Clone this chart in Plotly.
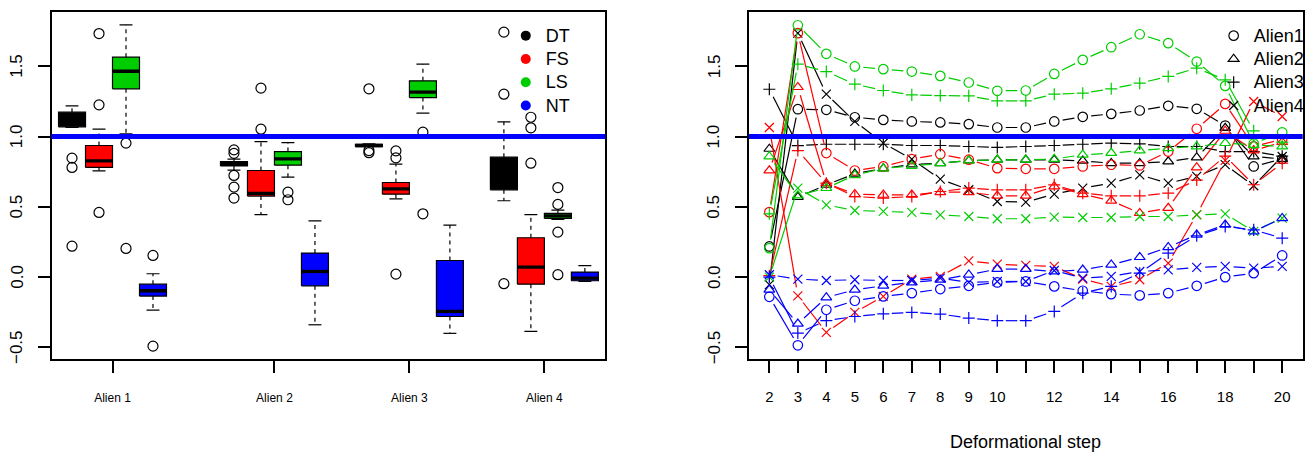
import math
import plotly.graph_objects as go

# ---------------- Left panel: box statistics ----------------
groups = ["DT", "FS", "LS", "NT"]
aliens = ["Alien 1", "Alien 2", "Alien 3", "Alien 4"]

# order: Alien1 (DT, FS, LS, NT), Alien2 (...), Alien3 (...), Alien4 (...)
whisk_lo = [1.065, 0.756, 1.019, -0.235,
            0.761, 0.445, 0.711, -0.339,
            0.930, 0.557, 1.166, -0.400,
            0.543, -0.386, 0.410, -0.030]
q1 = [1.069, 0.780, 1.339, -0.135,
      0.791, 0.576, 0.796, -0.062,
      0.927, 0.590, 1.277, -0.280,
      0.621, -0.050, 0.417, -0.026]
median = [1.110, 0.827, 1.464, -0.097,
          0.806, 0.595, 0.841, 0.040,
          0.936, 0.628, 1.315, -0.244,
          0.730, 0.071, 0.436, -0.007]
q3 = [1.173, 0.936, 1.564, -0.050,
      0.822, 0.758, 0.893, 0.171,
      0.945, 0.673, 1.396, 0.118,
      0.853, 0.280, 0.453, 0.036]
whisk_hi = [1.218, 1.052, 1.794, 0.024,
            0.839, 0.964, 0.957, 0.400,
            0.947, 0.803, 1.514, 0.370,
            1.104, 0.445, 0.476, 0.081]
outliers = [[0.846, 0.780, 0.220], [1.732, 1.225, 0.460], [0.953, 0.204], [0.154, -0.491],
            [0.905, 0.880, 0.723, 0.640, 0.562], [1.344, 1.052], [0.604, 0.550], [],
            [1.339, 0.900, 0.885], [0.898, 0.848, 0.021], [1.031, 0.450], [],
            [1.742, 1.301, -0.047], [1.137, 1.062, 0.810], [0.637, 0.517, 0.320, 0.017], []]

# box placement along the axis (like R's `at=`)
box_at = [1, 2, 3, 4, 7, 8, 9, 10, 12, 13, 14, 15, 17, 18, 19, 20]

ref_value = 1.0
y_ticks = [-0.5, 0.0, 0.5, 1.0, 1.5]

# ---------------- Right panel: series per deformational step ----------------
steps = list(range(2, 21))
step_labels = [str(s) if (s <= 10 or s % 2 == 0) else "" for s in steps]

DT_alien1 = [0.218, 1.194, 1.190, 1.137, 1.118, 1.107, 1.100, 1.088, 1.064, 1.064, 1.107, 1.140, 1.161, 1.185, 1.218, 1.197, 1.078, 0.787, 0.840]
DT_alien2 = [0.912, 0.569, 0.656, 0.735, 0.773, 0.801, 0.810, 0.829, 0.834, 0.834, 0.834, 0.827, 0.810, 0.810, 0.822, 0.851, 1.060, 0.858, 0.840]
DT_alien3 = [1.336, 0.935, 0.945, 0.945, 0.945, 0.936, 0.936, 0.929, 0.922, 0.929, 0.936, 0.945, 0.953, 0.948, 0.929, 0.929, 0.893, 0.893, 0.860]
DT_alien4 = [-0.054, 1.735, 1.301, 1.107, 0.953, 0.839, 0.697, 0.621, 0.538, 0.533, 0.590, 0.633, 0.668, 0.727, 0.668, 0.716, 0.800, 0.650, 0.858]
FS_alien1 = [0.462, 1.735, 0.882, 0.758, 0.787, 0.839, 0.874, 0.835, 0.775, 0.770, 0.770, 0.787, 0.799, 0.794, 0.893, 1.055, 1.232, 0.930, 0.980]
FS_alien2 = [0.758, 1.351, 0.668, 0.590, 0.585, 0.585, 0.604, 0.604, 0.578, 0.578, 0.645, 0.590, 0.543, 0.455, 0.491, 0.780, 1.040, 0.900, 0.960]
FS_alien3 = [0.010, 0.900, 0.668, 0.573, 0.562, 0.573, 0.609, 0.633, 0.621, 0.621, 0.656, 0.597, 0.578, 0.578, 0.597, 0.690, 0.860, 0.657, 0.810]
FS_alien4 = [1.064, -0.133, -0.393, -0.251, -0.137, -0.014, 0.005, 0.116, 0.092, 0.083, 0.076, -0.014, -0.066, -0.019, 0.100, 0.444, 0.830, 1.249, 1.142]
LS_alien1 = [0.206, 1.791, 1.588, 1.498, 1.479, 1.462, 1.431, 1.384, 1.325, 1.327, 1.445, 1.545, 1.635, 1.727, 1.664, 1.533, 1.360, 0.950, 1.030]
LS_alien2 = [0.858, 0.580, 0.633, 0.725, 0.773, 0.790, 0.810, 0.829, 0.834, 0.834, 0.840, 0.870, 0.882, 0.900, 0.917, 0.929, 0.953, 0.940, 0.929]
LS_alien3 = [0.450, 1.514, 1.462, 1.372, 1.327, 1.296, 1.291, 1.289, 1.254, 1.254, 1.301, 1.308, 1.339, 1.379, 1.427, 1.486, 1.403, 1.040, 0.960]
LS_alien4 = [0.000, 0.633, 0.514, 0.474, 0.467, 0.460, 0.443, 0.431, 0.415, 0.415, 0.427, 0.424, 0.424, 0.431, 0.431, 0.443, 0.450, 0.325, 0.420]
NT_alien1 = [-0.140, -0.485, -0.232, -0.168, -0.137, -0.114, -0.085, -0.062, -0.038, -0.031, -0.066, -0.097, -0.121, -0.130, -0.114, -0.062, 0.000, 0.028, 0.154]
NT_alien2 = [-0.090, -0.332, -0.145, -0.090, -0.062, -0.038, -0.019, 0.017, 0.057, 0.057, 0.040, 0.052, 0.088, 0.142, 0.213, 0.301, 0.372, 0.325, 0.419]
NT_alien3 = [0.000, -0.398, -0.310, -0.280, -0.261, -0.251, -0.263, -0.291, -0.310, -0.310, -0.244, -0.114, -0.066, 0.028, 0.171, 0.294, 0.360, 0.336, 0.277]
NT_alien4 = [0.017, -0.014, -0.024, -0.019, -0.024, -0.024, -0.007, -0.038, -0.031, -0.031, 0.047, -0.007, 0.005, 0.040, 0.052, 0.069, 0.076, 0.064, 0.076]

series_right = {
    "DT": [DT_alien1, DT_alien2, DT_alien3, DT_alien4],
    "FS": [FS_alien1, FS_alien2, FS_alien3, FS_alien4],
    "LS": [LS_alien1, LS_alien2, LS_alien3, LS_alien4],
    "NT": [NT_alien1, NT_alien2, NT_alien3, NT_alien4],
}
legend_right = ["Alien1", "Alien2", "Alien3", "Alien4"]
x_title_right = "Deformational step"

# ---------------- Style / layout ----------------
colors = {"DT": "#000000", "FS": "#FF0000", "LS": "#00CD00", "NT": "#0000FF"}
symbols = ["circle-open", "triangle-up-open", "cross-thin-open", "x-thin-open"]
sym_size = [9.5, 9.5, 8.6, 9.0]
FONT = "Liberation Sans, Arial, Helvetica, sans-serif"

W, H = 1310, 452
L1 = (51.7, 607.7)
L2 = (751.7, 1307.7)
TOP, BOT = 12.0, 359.0
YLAB_OFF = 35.0  # px from axis line to centre of rotated y tick labels

def ext(lo, hi):
    d = (hi - lo) * 0.04
    return [lo - d, hi + d]

all_lo = min(min(whisk_lo), min(v for o in outliers for v in o))
all_hi = max(max(whisk_hi), max(v for o in outliers for v in o))
Y_RANGE = ext(all_lo, all_hi)
X1_RANGE = ext(min(box_at), max(box_at))
X2_RANGE = ext(min(steps), max(steps))

HALF_BOX = 0.5
HALF_STAPLE = 0.24

fig = go.Figure()

# ---- boxes ----
for gi, g in enumerate(groups):
    xs, ys = [], []
    for i in range(gi, len(box_at), 4):
        p = box_at[i]
        xs += [p - HALF_BOX, p + HALF_BOX, p + HALF_BOX, p - HALF_BOX, p - HALF_BOX, None]
        ys += [q1[i], q1[i], q3[i], q3[i], q1[i], None]
    fig.add_trace(go.Scatter(x=xs, y=ys, mode="lines", fill="toself", fillcolor=colors[g],
                             line=dict(color="black", width=1.2), showlegend=False,
                             hoverinfo="skip", xaxis="x", yaxis="y"))

# medians
mx, my = [], []
for i, p in enumerate(box_at):
    mx += [p - HALF_BOX, p + HALF_BOX, None]
    my += [median[i], median[i], None]
fig.add_trace(go.Scatter(x=mx, y=my, mode="lines", line=dict(color="black", width=3.3),
                         showlegend=False, hoverinfo="skip", xaxis="x", yaxis="y"))

# whiskers (dashed)
wx, wy = [], []
for i, p in enumerate(box_at):
    wx += [p, p, None, p, p, None]
    wy += [q3[i], whisk_hi[i], None, q1[i], whisk_lo[i], None]
fig.add_trace(go.Scatter(x=wx, y=wy, mode="lines", line=dict(color="black", width=1.2, dash="4px,4px"),
                         showlegend=False, hoverinfo="skip", xaxis="x", yaxis="y"))
# staples
sx_, sy_ = [], []
for i, p in enumerate(box_at):
    sx_ += [p - HALF_STAPLE, p + HALF_STAPLE, None, p - HALF_STAPLE, p + HALF_STAPLE, None]
    sy_ += [whisk_hi[i], whisk_hi[i], None, whisk_lo[i], whisk_lo[i], None]
fig.add_trace(go.Scatter(x=sx_, y=sy_, mode="lines", line=dict(color="black", width=1.2),
                         showlegend=False, hoverinfo="skip", xaxis="x", yaxis="y"))
# outliers
ox, oy = [], []
for i, p in enumerate(box_at):
    for v in outliers[i]:
        ox.append(p)
        oy.append(v)
fig.add_trace(go.Scatter(x=ox, y=oy, mode="markers",
                         marker=dict(symbol="circle-open", size=10, color="black", line=dict(width=1.2)),
                         showlegend=False, hoverinfo="skip", xaxis="x", yaxis="y"))

LEG_TXT = '<span style="font-size:18px">%s</span>'

# left legend (coloured dots)
for g in groups:
    fig.add_trace(go.Scatter(x=[None], y=[None], mode="markers", name=LEG_TXT % g,
                             marker=dict(symbol="circle", size=10, color=colors[g]),
                             legend="legend", xaxis="x", yaxis="y"))

# ---- right panel: type="b" style lines with gaps around points ----
px_x = (L2[1] - L2[0]) / (X2_RANGE[1] - X2_RANGE[0])
px_y = (BOT - TOP) / (Y_RANGE[1] - Y_RANGE[0])
GAP = 8.5

for g in groups:
    for ai, vals in enumerate(series_right[g]):
        lx, ly = [], []
        for k in range(len(steps) - 1):
            x0, x1 = steps[k], steps[k + 1]
            y0, y1 = vals[k], vals[k + 1]
            dxp = (x1 - x0) * px_x
            dyp = (y1 - y0) * px_y
            Lp = math.hypot(dxp, dyp)
            if Lp <= 2 * GAP:
                continue
            f = GAP / Lp
            lx += [x0 + (x1 - x0) * f, x1 - (x1 - x0) * f, None]
            ly += [y0 + (y1 - y0) * f, y1 - (y1 - y0) * f, None]
        fig.add_trace(go.Scatter(x=lx, y=ly, mode="lines", line=dict(color=colors[g], width=1.2),
                                 showlegend=False, hoverinfo="skip", xaxis="x2", yaxis="y2"))
        fig.add_trace(go.Scatter(x=steps, y=vals, mode="markers",
                                 marker=dict(symbol=symbols[ai], size=sym_size[ai], color=colors[g],
                                             line=dict(width=1.2, color=colors[g])),
                                 showlegend=False, hoverinfo="skip", xaxis="x2", yaxis="y2"))

for ai, name in enumerate(legend_right):
    fig.add_trace(go.Scatter(x=[None], y=[None], mode="markers", name=LEG_TXT % name,
                             marker=dict(symbol=symbols[ai], size=sym_size[ai], color="black",
                                         line=dict(width=1.2, color="black")),
                             legend="legend2", xaxis="x2", yaxis="y2"))

# reference lines at 1.0
for xr, yr in (("x domain", "y"), ("x2 domain", "y2")):
    fig.add_shape(type="line", xref=xr, x0=0, x1=1, yref=yr, y0=ref_value, y1=ref_value,
                  line=dict(color="#0000FF", width=5), layer="above")

# rotated y tick labels (R style, reading upwards)
annotations = []
for yr, axis_px in (("y", L1[0]), ("y2", L2[0])):
    for v in y_ticks:
        annotations.append(dict(text=("%.1f" % v).replace("-", "\u2212"), xref="paper",
                                x=(axis_px - YLAB_OFF) / W, xanchor="center",
                                yref=yr, y=v, yanchor="middle", textangle=-90,
                                showarrow=False, font=dict(size=17)))
annotations.append(dict(text=x_title_right, xref="x2 domain", x=0.5, yref="paper",
                        y=(H - 441.5) / H, yanchor="middle", xanchor="center", showarrow=False,
                        font=dict(size=18)))

yd = [(H - BOT) / H, (H - TOP) / H]
axis_common = dict(showline=True, mirror=True, linecolor="black", linewidth=1.8,
                   ticks="outside", ticklen=12, tickwidth=1.5, tickcolor="black",
                   showgrid=False, zeroline=False)

fig.update_layout(
    width=W, height=H,
    margin=dict(l=0, r=0, t=0, b=0),
    paper_bgcolor="white", plot_bgcolor="white",
    font=dict(family=FONT, color="black"),
    xaxis=dict(domain=[L1[0] / W, L1[1] / W], range=X1_RANGE, tickmode="array",
               tickvals=[(box_at[i + 1] + box_at[i + 2]) / 2 for i in range(0, 16, 4)],
               ticktext=aliens, tickfont=dict(size=12), ticklabelstandoff=15,
               anchor="y", **axis_common),
    yaxis=dict(domain=yd, range=Y_RANGE, tickmode="array", tickvals=y_ticks,
               showticklabels=False, anchor="x", **axis_common),
    xaxis2=dict(domain=[L2[0] / W, L2[1] / W], range=X2_RANGE, tickmode="array",
                tickvals=steps, ticktext=step_labels, tickfont=dict(size=15), ticklabelstandoff=11,
                anchor="y2", **axis_common),
    yaxis2=dict(domain=yd, range=Y_RANGE, tickmode="array", tickvals=y_ticks,
                showticklabels=False, anchor="x2", **axis_common),
    legend=dict(x=507.7 / W, y=1 - 19 / H, xanchor="left", yanchor="top",
                font=dict(size=15.6), bgcolor="rgba(0,0,0,0)", borderwidth=0),
    legend2=dict(x=1218.3 / W, y=1 - 19 / H, xanchor="left", yanchor="top",
                 font=dict(size=15.6), bgcolor="rgba(0,0,0,0)", borderwidth=0),
    annotations=annotations,
    showlegend=True,
)

fig.write_html("out.html")
